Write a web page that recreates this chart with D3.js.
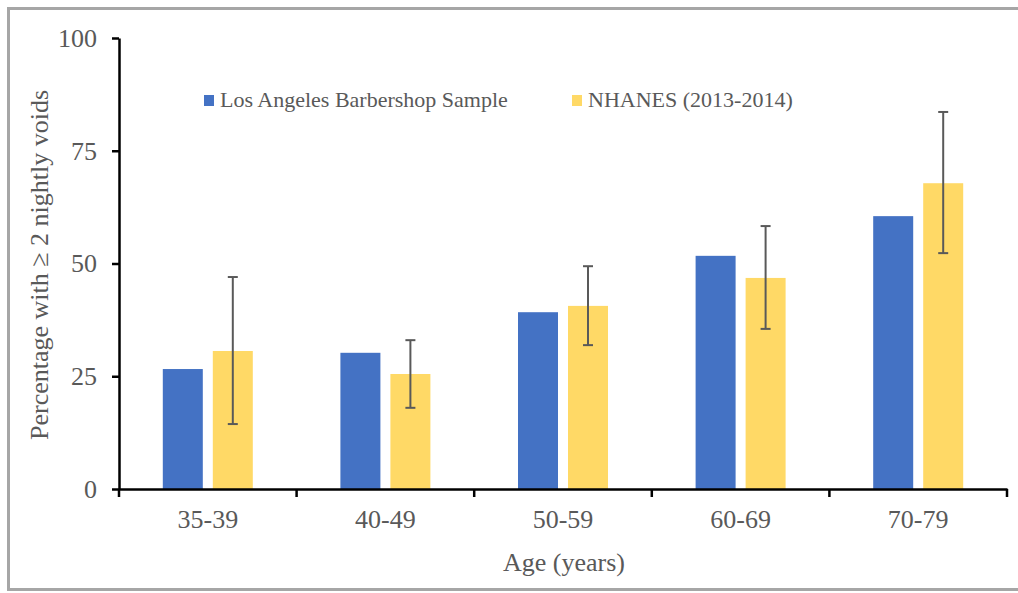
<!DOCTYPE html>
<html><head><meta charset="utf-8">
<script src="https://cdn.jsdelivr.net/npm/d3@7"></script>
<style>body{margin:0;background:#fff;}svg{display:block;}</style>
</head><body>
<svg id="c" width="1018" height="593"></svg>
<script>
const categories = ["35-39","40-49","50-59","60-69","70-79"];
const seriesNames = ["Los Angeles Barbershop Sample","NHANES (2013-2014)"];
const barbershop = [26.6, 30.2, 39.2, 51.7, 60.5];
const nhanes = [30.6, 25.5, 40.6, 46.8, 67.8];
const nhanesLow = [14.4, 18.0, 31.9, 35.5, 52.3];
const nhanesHigh = [47.0, 33.0, 49.4, 58.3, 83.6];
const yTicks = [0, 25, 50, 75, 100];

const FONT = "'Liberation Serif', 'Times New Roman', Tinos, serif";
const svg = d3.select("#c").attr("font-family", FONT);
const colors = ["#4472C4", "#FFD966"];
const textColor = "#595959";

// frame
svg.append("rect").attr("x", 8.5).attr("y", 8.5).attr("width", 1030).attr("height", 581)
  .attr("fill", "none").attr("stroke", "#a6a6a6").attr("stroke-width", 3);

const x = d3.scaleBand().domain(categories).range([119, 1007]).paddingInner(0).paddingOuter(0);
const bw = x.bandwidth();
const x1 = d3.scaleBand().domain([0, 1]).range([bw / 2 - 45, bw / 2 + 45]).paddingInner(0.2).paddingOuter(0);
const y = d3.scaleLinear().domain([0, 100]).range([489, 38]);

const data = [barbershop, nhanes];
data.forEach((vals, si) => {
  svg.append("g").selectAll("rect").data(vals).join("rect")
    .attr("x", (d, i) => x(categories[i]) + x1(si))
    .attr("width", x1.bandwidth())
    .attr("y", d => y(d))
    .attr("height", d => y(0) - y(d))
    .attr("fill", colors[si]);
});

// error bars
const eb = svg.append("g").attr("stroke", "#595959").attr("stroke-width", 2).attr("fill", "none");
categories.forEach((c, i) => {
  const cx = x(c) + x1(1) + x1.bandwidth() / 2;
  eb.append("line").attr("x1", cx).attr("x2", cx).attr("y1", y(nhanesLow[i])).attr("y2", y(nhanesHigh[i]));
  eb.append("line").attr("x1", cx - 5).attr("x2", cx + 5).attr("y1", y(nhanesLow[i])).attr("y2", y(nhanesLow[i]));
  eb.append("line").attr("x1", cx - 5).attr("x2", cx + 5).attr("y1", y(nhanesHigh[i])).attr("y2", y(nhanesHigh[i]));
});

// y axis
const yAxis = svg.append("g").attr("transform", "translate(119,0)")
  .call(d3.axisLeft(y).tickValues(yTicks).tickSize(7).tickSizeOuter(0));
yAxis.attr("font-family", FONT);
yAxis.select(".domain").attr("stroke", "#000").attr("stroke-width", 2.5);
yAxis.selectAll(".tick line").attr("stroke", "#000").attr("stroke-width", 2.5);
yAxis.selectAll(".tick text").attr("fill", textColor).attr("font-size", 26)
  .attr("font-family", FONT).attr("x", -22);

// x axis
const xAxis = svg.append("g").attr("transform", "translate(0,489)")
  .call(d3.axisBottom(x).tickSize(0).tickSizeOuter(0));
xAxis.attr("font-family", FONT);
xAxis.select(".domain").attr("stroke", "#000").attr("stroke-width", 2.5);
xAxis.selectAll(".tick text").attr("fill", textColor).attr("font-size", 26)
  .attr("font-family", FONT).attr("y", 21);
// boundary ticks
const bounds = categories.map(c => x(c)).concat([x.range()[1]]);
svg.append("g").selectAll("line").data(bounds).join("line")
  .attr("x1", d => d).attr("x2", d => d).attr("y1", 489).attr("y2", 497)
  .attr("stroke", "#000").attr("stroke-width", 2.5);

// axis titles
svg.append("text").attr("x", 564).attr("y", 571).attr("text-anchor", "middle")
  .attr("font-family", FONT).attr("fill", textColor).attr("font-size", 26).text("Age (years)");
svg.append("text").attr("transform", "translate(48,265) rotate(-90)").attr("text-anchor", "middle")
  .attr("font-family", FONT).attr("fill", textColor).attr("font-size", 26).text("Percentage with \u2265 2 nightly voids");

// legend
const legX = [204, 572];
seriesNames.forEach((n, i) => {
  svg.append("rect").attr("x", legX[i]).attr("y", 95).attr("width", 10).attr("height", 11).attr("fill", colors[i]);
  svg.append("text").attr("x", legX[i] + 16).attr("y", 107).attr("fill", textColor)
    .attr("font-family", FONT).attr("font-size", 22).text(n);
});
</script>
</body></html>
